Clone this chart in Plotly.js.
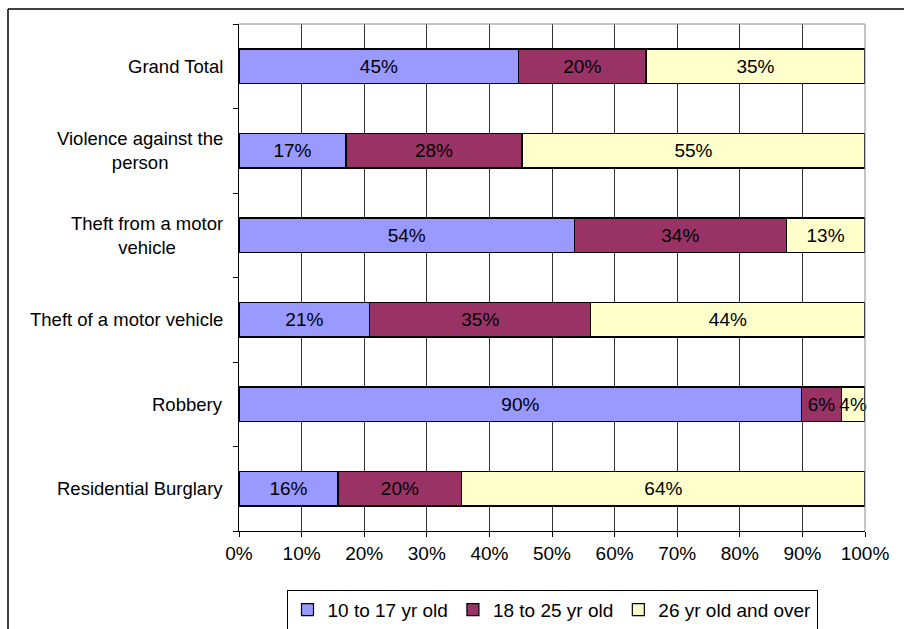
<!DOCTYPE html>
<html>
<head>
<meta charset="utf-8">
<script src="https://cdn.plot.ly/plotly-3.0.1.min.js"></script>
<style>
  html, body { margin: 0; padding: 0; background: #fff; }
  #chart { width: 904px; height: 629px; }
</style>
</head>
<body>
<div id="chart"></div>
<script>
  // categories listed bottom to top (plotly draws first category at the bottom)
  const categories = [
    "Residential Burglary",
    "Robbery",
    "Theft of a motor vehicle",
    "Theft from a motor vehicle",
    "Violence against the person",
    "Grand Total",
  ];
  const categoryLabels = [
    "Residential Burglary",
    "Robbery",
    "Theft of a motor vehicle",
    "Theft from a motor<br>vehicle",
    "Violence against the<br>person",
    "Grand Total",
  ];

  const age10to17 = [15.8, 89.9, 20.9, 53.6, 17.1, 44.7];
  const age18to25 = [19.8, 6.3, 35.3, 33.8, 28.1, 20.3];
  const age26plus = [64.4, 3.8, 43.8, 12.6, 54.8, 35.0];

  const seriesNames = ["10 to 17 yr old", "18 to 25 yr old", "26 yr old and over"];
  const seriesColors = ["#9999FF", "#993366", "#FFFFCC"];

  const font = "Liberation Sans, Arial, sans-serif";

  const traces = [age10to17, age18to25, age26plus].map((vals, i) => ({
    type: "bar",
    orientation: "h",
    name: seriesNames[i],
    y: categories,
    x: vals,
    text: vals.map((v) => Math.round(v) + "%"),
    texttemplate: "%{text}",
    textposition: "inside",
    insidetextanchor: "middle",
    textangle: 0,
    constraintext: "none",
    cliponaxis: false,
    textfont: { family: font, size: 19, color: "#000" },
    marker: { color: seriesColors[i], line: { color: "#000", width: 1.2 } },
    hoverinfo: "skip",
  }));

  const labelAnnotations = categories.map((c, i) => ({
    xref: "paper",
    yref: "y",
    x: -0.022,
    y: c,
    xanchor: "right",
    yanchor: "middle",
    align: "center",
    showarrow: false,
    text: categoryLabels[i],
    font: { family: font, size: 18.5, color: "#000" },
  }));

  const layout = {
    width: 904,
    height: 629,
    margin: { l: 239, r: 39, t: 24, b: 98, autoexpand: false },
    paper_bgcolor: "#fff",
    plot_bgcolor: "#fff",
    barmode: "stack",
    bargap: 0.59,
    font: { family: font, size: 19, color: "#000" },
    xaxis: {
      range: [0, 100],
      dtick: 10,
      ticksuffix: "%",
      showgrid: true,
      gridcolor: "#333",
      gridwidth: 1,
      zeroline: false,
      showline: true,
      linecolor: "#000",
      linewidth: 1,
      ticks: "outside",
      ticklen: 5,
      tickcolor: "#000",
      tickfont: { family: font, size: 19, color: "#000" },
      fixedrange: true,
    },
    yaxis: {
      showticklabels: false,
      showgrid: false,
      zeroline: false,
      showline: true,
      linecolor: "#000",
      linewidth: 1,
      ticks: "outside",
      tickson: "boundaries",
      ticklen: 5,
      tickcolor: "#000",
      fixedrange: true,
    },
    showlegend: true,
    legend: {
      orientation: "h",
      x: 0.5,
      xanchor: "center",
      y: -0.116,
      yanchor: "top",
      bordercolor: "#000",
      borderwidth: 1,
      bgcolor: "#fff",
      font: { family: font, size: 19, color: "#000" },
      traceorder: "normal",
      itemwidth: 30,
    },
    annotations: labelAnnotations,
    shapes: [
      // gray frame on top and right of the plot area
      { type: "line", xref: "paper", yref: "paper", x0: 0, x1: 1, y0: 1, y1: 1, line: { color: "#888", width: 1 } },
      { type: "line", xref: "paper", yref: "paper", x0: 1, x1: 1, y0: 0, y1: 1, line: { color: "#888", width: 1 } },
      // outer chart border (left and top edges visible)
      { type: "line", xref: "paper", yref: "paper", x0: -0.369, x1: 1.1, y0: 1.0296, y1: 1.0296, line: { color: "#000", width: 1.5 } },
      { type: "line", xref: "paper", yref: "paper", x0: -0.369, x1: -0.369, y0: -0.2, y1: 1.0296, line: { color: "#000", width: 1.5 } },
    ],
  };

  Plotly.newPlot("chart", traces, layout, { displayModeBar: false, staticPlot: true });
</script>
</body>
</html>
